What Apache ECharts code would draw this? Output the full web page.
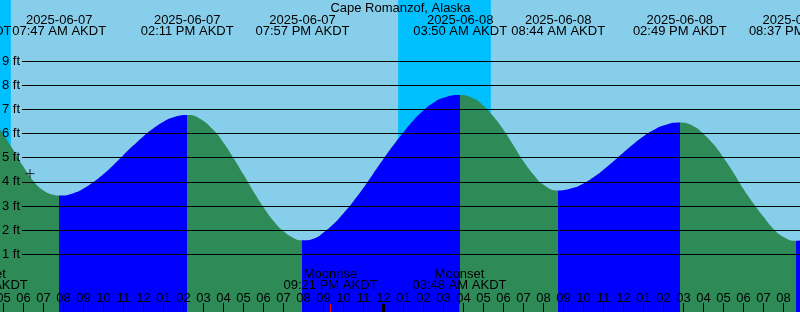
<!DOCTYPE html>
<html><head><meta charset="utf-8">
<script src="https://cdn.jsdelivr.net/npm/echarts@6/dist/echarts.min.js"></script>
<style>html,body{margin:0;padding:0;background:#87CEEB;overflow:hidden}#c{width:800px;height:312px}</style>
</head><body><div id="c"></div>
<script>
// All times are hours since 2025-06-07 00:00 AKDT
const chartTitle = 'Cape Romanzof, Alaska';
const tideHours = [3.05, 4, 4.5, 5, 5.5, 6, 6.5, 7, 7.5, 7.783, 8.5, 9, 9.5, 10, 10.5, 11, 11.5, 12, 12.5, 13, 13.5, 14.183,
  14.8, 15.5, 16, 16.5, 17, 17.5, 18, 18.5, 19, 19.5, 19.95, 20.6, 21, 21.5, 22, 22.5, 23, 23.5, 24, 24.5, 25, 25.5, 26, 26.5, 27, 27.833,
  28.5, 29, 29.5, 30, 30.5, 31, 31.5, 32, 32.733, 33.5, 34, 34.5, 35, 35.5, 36, 36.5, 37, 37.5, 38, 38.817,
  39.5, 40, 40.5, 41, 41.5, 42, 42.5, 43, 43.5, 44, 44.617, 45.5];
const tideFeet = [7.4, 7.02, 6.55, 5.95, 5.31, 4.62, 4.02, 3.64, 3.46, 3.43, 3.53, 3.72, 3.99, 4.32, 4.7, 5.11, 5.51, 5.89, 6.22, 6.49, 6.67, 6.76,
  6.62, 6.14, 5.62, 4.99, 4.3, 3.6, 2.95, 2.38, 1.95, 1.68, 1.58, 1.68, 1.9, 2.25, 2.7, 3.2, 3.75, 4.35, 4.95, 5.52, 6.05, 6.55, 6.95, 7.27, 7.48, 7.59,
  7.45, 7.15, 6.7, 6.15, 5.5, 4.85, 4.3, 3.88, 3.64, 3.75, 3.93, 4.19, 4.5, 4.85, 5.21, 5.56, 5.88, 6.14, 6.33, 6.45,
  6.3, 5.98, 5.55, 5.0, 4.38, 3.7, 3.1, 2.55, 2.05, 1.72, 1.56, 1.75];
const extremeHours = [3.05, 7.783, 14.183, 19.95, 27.833, 32.733, 38.817, 44.617];
const extremeKinds = ['high', 'low', 'high', 'low', 'high', 'low', 'high', 'low'];
const extremeDates = ['2025-06-07', '2025-06-07', '2025-06-07', '2025-06-07', '2025-06-08', '2025-06-08', '2025-06-08', '2025-06-08'];
const extremeTimes = ['03:03 AM AKDT', '07:47 AM AKDT', '02:11 PM AKDT', '07:57 PM AKDT', '03:50 AM AKDT', '08:44 AM AKDT', '02:49 PM AKDT', '08:37 PM AKDT'];
const nightStart = [0, 24.733];
const nightEnd = [5.367, 29.367];
const moonHours = [3.867, 21.35, 27.8];
const moonNames = ['Moonset', 'Moonrise', 'Moonset'];
const moonTimes = ['03:52 AM AKDT', '09:21 PM AKDT', '03:48 AM AKDT'];
const midnightHours = [24];
const hourTicks = [5,6,7,8,9,10,11,12,13,14,15,16,17,18,19,20,21,22,23,24,25,26,27,28,29,30,31,32,33,34,35,36,37,38,39,40,41,42,43,44];
const footTicks = [1, 9];
const markerHours = [6.325];
const markerFeet = [4.34];

const xMin = 4.825, xMax = 44.825;
const yMin = -1.386, yMax = 11.522;
const PX_PER_HOUR = 800 / (xMax - xMin);
const FF = '"Liberation Sans", Arial, sans-serif';
const FONT = '13px ' + FF;
const RISE = '#0000FF', FALL = '#2E8B57';

const pieces = [{lt: extremeHours[0], color: extremeKinds[0] === 'high' ? RISE : FALL}];
for (let i = 0; i < extremeHours.length; i++) {
  const p = {gte: extremeHours[i], color: extremeKinds[i] === 'low' ? RISE : FALL};
  if (i < extremeHours.length - 1) p.lt = extremeHours[i + 1];
  pieces.push(p);
}
const tickFirst = hourTicks[0], tickLast = hourTicks[hourTicks.length - 1];
const hourLabel = v => { let h = ((Math.round(v) % 12) + 12) % 12; if (h === 0) h = 12; return (h < 10 ? '0' : '') + h; };

const option = {
  backgroundColor: '#87CEEB',
  animation: false,
  grid: [
    {left: 0, right: 0, top: 0, bottom: 0, containLabel: false, outerBoundsMode: 'none'},
    {left: 22, right: 0, top: 61, height: 193.3, containLabel: false, outerBoundsMode: 'none'},
    {left: (tickFirst - xMin) * PX_PER_HOUR, right: (xMax - tickLast) * PX_PER_HOUR, top: 303, bottom: 0, containLabel: false, outerBoundsMode: 'none'}
  ],
  xAxis: [
    {gridIndex: 0, type: 'value', min: xMin, max: xMax, show: false, axisLine: {onZero: false}},
    {gridIndex: 1, type: 'value', min: 0, max: 1, show: false},
    {gridIndex: 2, type: 'value', min: tickFirst, max: tickLast, interval: 1, z: 50,
     axisLine: {show: false, onZero: false}, axisTick: {show: false}, axisLabel: {show: false},
     splitLine: {show: true, lineStyle: {color: '#000', width: 1, opacity: 1}}}
  ],
  yAxis: [
    {gridIndex: 0, type: 'value', min: yMin, max: yMax, show: false},
    {gridIndex: 1, type: 'value', min: footTicks[0], max: footTicks[1], interval: 1, z: 10,
     axisLine: {show: false}, axisTick: {show: false},
     splitLine: {show: true, lineStyle: {color: '#000', width: 1}},
     axisLabel: {formatter: '{value} ft', margin: 2, color: '#000', fontSize: 13, fontFamily: FF}},
    {gridIndex: 2, type: 'value', min: 0, max: 1, show: false}
  ],
  visualMap: {type: 'piecewise', show: false, dimension: 0, seriesIndex: 1, pieces: pieces},
  series: [
    {type: 'line', xAxisIndex: 0, yAxisIndex: 0, z: 1, data: [[xMin, yMin]], symbol: 'none', lineStyle: {width: 0}, silent: true,
     markArea: {silent: true, itemStyle: {color: '#00BFFF', opacity: 1},
       data: nightStart.map((s, i) => [{xAxis: s}, {xAxis: nightEnd[i]}])}},
    {type: 'line', xAxisIndex: 0, yAxisIndex: 0, z: 2, smooth: 0.5, symbol: 'none', showSymbol: false,
     data: tideHours.map((t, i) => [t, tideFeet[i]]),
     lineStyle: {width: 0}, areaStyle: {opacity: 1, origin: 'start'}},
    {type: 'scatter', xAxisIndex: 0, yAxisIndex: 0, z: 20, silent: true,
     symbol: 'path://M0,4.5L9,4.5M4.5,0L4.5,9', symbolSize: 9,
     itemStyle: {color: 'rgba(0,0,0,0)', borderColor: '#000', borderWidth: 1},
     data: markerHours.map((t, i) => [t, markerFeet[i]])}
  ]
};

const chart = echarts.init(document.getElementById('c'), null, {renderer: 'canvas'});
chart.setOption(option);

const px = t => chart.convertToPixel({xAxisIndex: 0}, t);
function txt(x, y, s) {
  return {type: 'text', x: x, y: y, z: 100, silent: true,
    style: {text: s, font: FONT, fill: '#000', align: 'center', verticalAlign: 'middle', textAlign: 'center', textVerticalAlign: 'middle'}};
}
function tick(x, color, w) {
  return {type: 'rect', z: 110, silent: true, shape: {x: Math.floor(x) - Math.floor(w / 2), y: 304, width: w, height: 8}, style: {fill: color, stroke: null}};
}
const els = [txt(400.5, 8.2, chartTitle)];
hourTicks.forEach(t => { els.push(txt(px(t), 298.4, hourLabel(t))); });
hourTicks.forEach(t => { els.push(tick(px(t), '#000000', 1)); });
extremeHours.forEach((t, i) => {
  const x = px(t);
  els.push(txt(x, 20.1, extremeDates[i]));
  els.push(txt(x, 31.8, extremeTimes[i]));
});
moonHours.forEach((t, i) => {
  const x = px(t);
  els.push(txt(x, 274.1, moonNames[i]));
  els.push(txt(x, 285.8, moonTimes[i]));
  els.push(tick(x, '#FF0000', 1));
});
midnightHours.forEach(t => { els.push(tick(px(t), '#000000', 3)); });
chart.setOption({graphic: {elements: els}});
</script>
</body></html>
